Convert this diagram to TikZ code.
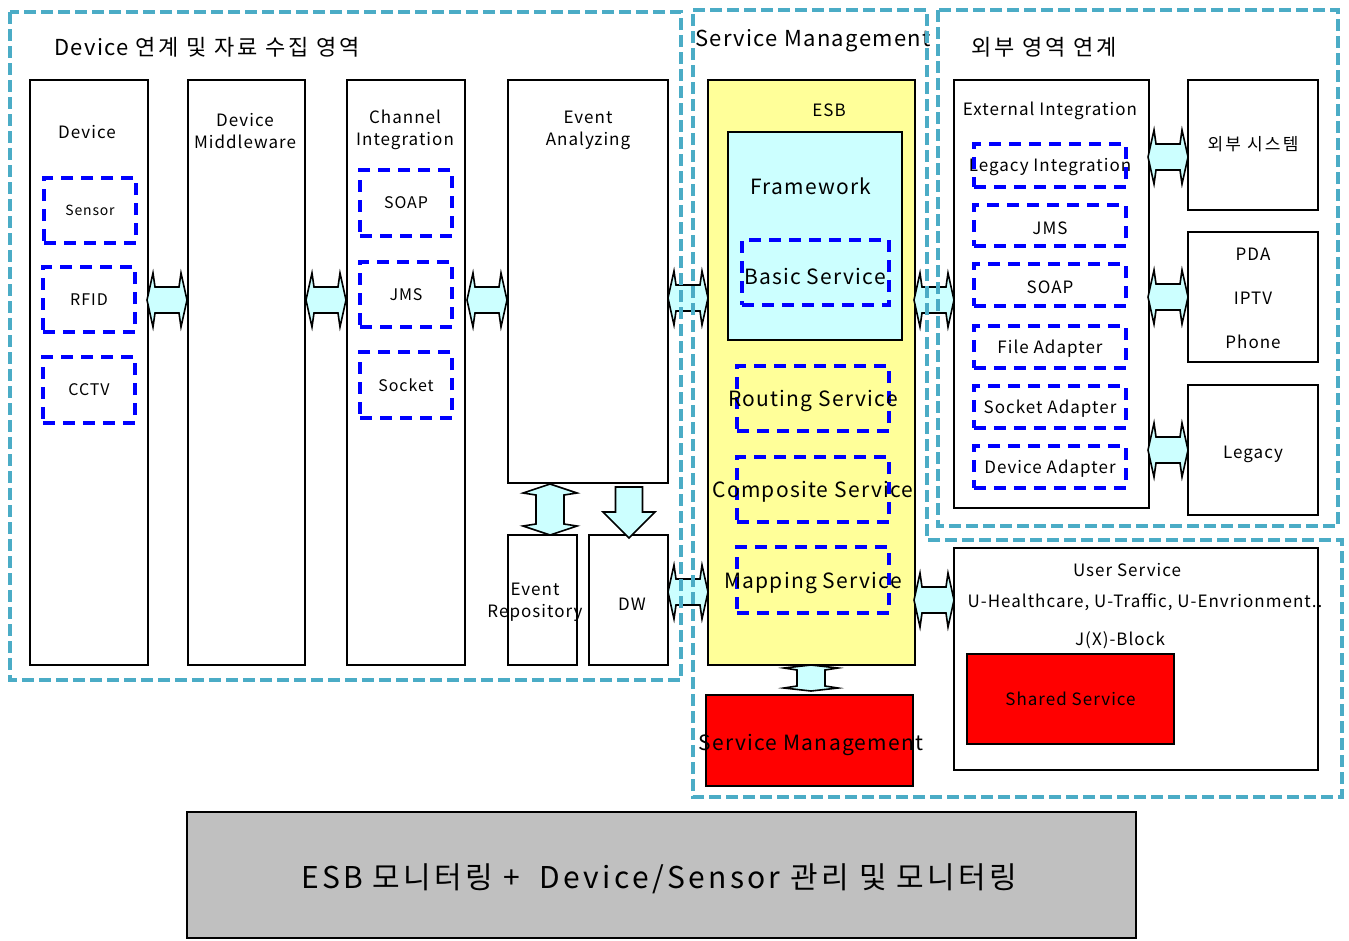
\documentclass[tikz,border=0pt]{standalone}
\usepackage{fontspec}
\setmainfont{Noto Sans CJK KR}[LetterSpace=6]
\newfontfamily\krwide{Noto Sans CJK KR}[LetterSpace=13]
\newfontfamily\monfont{Noto Sans CJK KR}[LetterSpace=11]
\usetikzlibrary{fit}

\definecolor{zonecol}{HTML}{4BACC6}
\definecolor{arrcol}{HTML}{CCFFFF}
\definecolor{esbcol}{HTML}{FFFF99}
\definecolor{grycol}{HTML}{C0C0C0}

\tikzset{
  box/.style={draw, line width=1.6pt, inner sep=0pt},
  blubox/.style={draw=blue, line width=3.5pt, dash pattern=on 12pt off 8pt, inner sep=0pt},
  zone/.style={draw=zonecol, line width=3.5pt, dash pattern=on 12pt off 5pt},
  arr/.style={draw, line width=1.6pt, fill=arrcol, line join=miter},
  % half length / half head width / half shaft width / head length
  pics/fatdbl/.style n args={4}{code={
    \draw[arr] (-#1,0) -- (-#1+#4,-#2) -- (-#1+#4+2,-#3) -- (#1-#4-2,-#3)
      -- (#1-#4,-#2) -- (#1,0) -- (#1-#4,#2) -- (#1-#4-2,#3)
      -- (-#1+#4+2,#3) -- (-#1+#4,#2) -- cycle;}},
  pics/fatdown/.style={code={
    \draw[arr] (-13.5,-25) -- (13.5,-25) -- (13.5,0) -- (26,0) -- (0,26)
      -- (-26,0) -- (-13.5,0) -- cycle;}},
  f14/.style={font=\fontsize{14}{17}\selectfont},
  f16/.style={font=\fontsize{16}{19}\selectfont},
  f17/.style={font=\fontsize{17}{22}\selectfont, align=center},
  f21/.style={font=\fontsize{21}{25}\selectfont},
  f22/.style={font=\fontsize{22}{26}\selectfont},
}

\begin{document}
\begin{tikzpicture}[x=1pt, y=-1pt]
\useasboundingbox (0,0) rectangle (1349,940);

% left area
\node[box, fit={(30,80) (148,665)}] (dev) {};
\node[box, fit={(188,80) (305,665)}] (mid) {};
\node[box, fit={(347,80) (465,665)}] (chan) {};
\node[box, fit={(508,80) (668,483)}] (evt) {};
\node[box, fit={(508,535) (577,665)}] (erep) {};
\node[box, fit={(589,535) (668,665)}] (dw) {};
\node[f22, anchor=west] (lefttitle) at (51,47) {Device {\krwide 연계 및 자료 수집 영역}};
\node[f17] at (87,132) {Device};
\node[f17] at (245,131) {Device\\Middleware};
\node[f17] at (405,130) {Channel\\Integration};
\node[f17] at (588,130) {Event\\Analyzing};
\node[f17] at (535,602) {Event\\Repository};
\node[f17] at (632,604) {DW};

\node[blubox, fit={(44,178) (136,243)}] (sensor) {};
\node[blubox, fit={(43,267) (135,332)}] (rfid) {};
\node[blubox, fit={(43,357) (135,423)}] (cctv) {};
\node[f14] at (sensor) {Sensor};
\node[f16] at (rfid) {RFID};
\node[f16] at (cctv) {CCTV};
\node[blubox, fit={(360,170) (452,236)}] (soap) {};
\node[blubox, fit={(360,262) (452,327)}] (jms) {};
\node[blubox, fit={(360,352) (452,418)}] (sock) {};
\node[f16] at (soap) {SOAP};
\node[f16] at (jms) {JMS};
\node[f16] at (sock) {Socket};

% service management
\node[box, fill=esbcol, fit={(708,80) (915,665)}] (esb) {};
\node[box, fill=arrcol, fit={(728,132) (902,340)}] (frame) {};
\node[blubox, fit={(742,240) (889,305)}] (basic) {};
\node[blubox, fit={(737,366) (889,431)}] (route) {};
\node[blubox, fit={(737,457) (889,522)}] (comp) {};
\node[blubox, fit={(737,547) (889,613)}] (map) {};
\node[box, fill=red, fit={(706,695) (913,786)}] (svcm) {};
\node[f22] (midtitle) at (813,41) {Service Management};
\node[f17] at (829,110) {ESB};
\node[f21] at (811,186) {Framework};
\node[f21] at (815,276) {Basic Service};
\node[f21] at (813,401) {Routing Service};
\node[f21] at (813,492) {Composite Service};
\node[f21] at (813,583) {Mapping Service};
\node[f21] at (811,745) {Service Management};

% external area
\node[box, fit={(954,80) (1149,508)}] (ext) {};
\node[blubox, fit={(974,144) (1126,187)}] (legint) {};
\node[blubox, fit={(974,205) (1126,246)}] (jms2) {};
\node[blubox, fit={(974,264) (1126,306)}] (soap2) {};
\node[blubox, fit={(974,326) (1126,368)}] (file) {};
\node[blubox, fit={(974,386) (1126,428)}] (sock2) {};
\node[blubox, fit={(974,446) (1126,488)}] (devad) {};
\node[box, fit={(1188,80) (1318,210)}] (extsys) {};
\node[box, fit={(1188,232) (1318,362)}] (pda) {};
\node[box, fit={(1188,385) (1318,515)}] (legacy) {};
\node[f22, anchor=west] (righttitle) at (968,47) {\krwide 외부 영역 연계};
\node[f17] at (1050,111) {External Integration};
\node[f17] at (1050,167) {Legacy Integration};
\node[f17] at (1050,228) {JMS};
\node[f17] at (1050,287) {SOAP};
\node[f17] at (1050,349) {File Adapter};
\node[f17] at (1050,409) {Socket Adapter};
\node[f17] at (1050,469) {Device Adapter};
\node[f17] at (1253,144) {\krwide 외부 시스템};
\node[f17] at (1253,254) {PDA};
\node[f17] at (1253,298) {IPTV};
\node[f17] at (1253,342) {Phone};
\node[f17] at (1253,454) {Legacy};

% user service
\node[box, fit={(954,548) (1318,770)}] (user) {};
\node[box, fill=red, fit={(967,654) (1174,744)}] (shared) {};
\node[f17] at (1127,570) {User Service};
\node[f17] at (1145,602) {U-Healthcare, U-Traffic, U-Envrionment..};
\node[f17] at (1120,640) {J(X)-Block};
\node[f17] at (shared) {Shared Service};

% monitoring bar
\node[box, fill=grycol, fit={(187,812) (1136,938)}] (mon) {};
\node[font=\monfont\fontsize{30}{36}\selectfont] at (659,879) {ESB 모니터링 +\ \ Device/Sensor 관리 및 모니터링};

% fat arrows
\pic (a1) at (167,300) {fatdbl={20}{27}{13}{6}};
\pic (a2) at (326,300) {fatdbl={20}{27}{13}{6}};
\pic (a3) at (487,300) {fatdbl={20}{27}{13}{6}};
\pic (a4) at (688,298) {fatdbl={20}{27}{13}{6}};
\pic (a5) at (934,300) {fatdbl={20}{27}{13}{6}};
\pic (a6) at (934,600) {fatdbl={20}{27}{13}{6}};
\pic (a7) at (688,592) {fatdbl={20}{27}{13}{6}};
\pic (a8) at (1168,157) {fatdbl={20}{27}{13}{6}};
\pic (a9) at (1168,297) {fatdbl={20}{27}{13}{6}};
\pic (a10) at (1168,450) {fatdbl={20}{27}{13}{6}};
\pic[rotate=90] (evrep) at (550,509.5) {fatdbl={25.5}{27}{14}{9}};
\pic (evdw) at (629,512) {fatdown};
\pic[rotate=90] (esbsm) at (811,678) {fatdbl={13}{27}{14}{3}};

% dashed areas
\draw[zone] (10,12) rectangle (681,680);
\draw[zone] (693,10) -- (927,10) -- (927,540) -- (1342,540) -- (1342,797) -- (693,797) -- cycle;
\draw[zone] (938,10) rectangle (1338,526);
\end{tikzpicture}
\end{document}
